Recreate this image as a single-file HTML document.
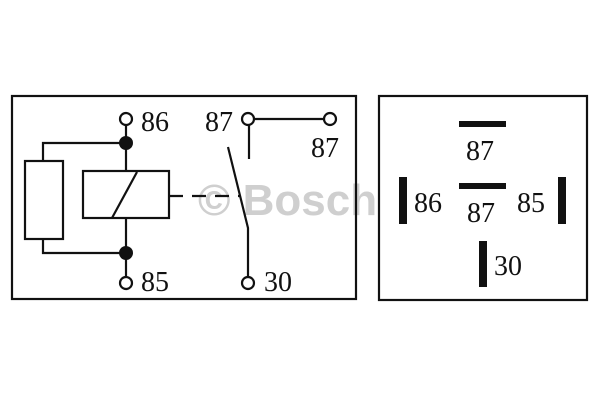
<!DOCTYPE html>
<html><head><style>
html,body{margin:0;padding:0;background:#fff;width:600px;height:400px;overflow:hidden}
text{font-family:"Liberation Serif",serif;font-size:28px;fill:#111}
</style></head><body>
<svg width="600" height="400" viewBox="0 0 600 400" xmlns="http://www.w3.org/2000/svg">
<text x="198" y="215" style="font-family:'Liberation Sans',sans-serif;font-weight:bold;font-size:44px;fill:#cfcfcf">© Bosch</text>
<g fill="none" stroke="#111" stroke-width="2.2">
<rect x="12" y="96" width="344" height="203"/>
<rect x="379" y="96" width="208" height="204"/>
<rect x="25" y="161" width="38" height="78"/>
<rect x="83" y="171" width="86" height="47"/>
<line x1="112" y1="218" x2="137" y2="172"/>
<polyline points="43,161 43,143 126,143"/>
<polyline points="43,239 43,253 126,253"/>
<line x1="126" y1="125" x2="126" y2="171"/>
<line x1="126" y1="218" x2="126" y2="277"/>
<line x1="169" y1="196" x2="240" y2="196" stroke-dasharray="14,9"/>
<polyline points="228,147 248,228 248,277"/>
<line x1="249" y1="125" x2="249" y2="159"/>
<line x1="254" y1="119" x2="324" y2="119"/>
<circle cx="126" cy="119" r="6" fill="#fff"/>
<circle cx="126" cy="283" r="6" fill="#fff"/>
<circle cx="248" cy="119" r="6" fill="#fff"/>
<circle cx="330" cy="119" r="6" fill="#fff"/>
<circle cx="248" cy="283" r="6" fill="#fff"/>
</g>
<circle cx="126" cy="143" r="7" fill="#111"/>
<circle cx="126" cy="253" r="7" fill="#111"/>
<text x="141" y="131">86</text>
<text x="205" y="131">87</text>
<text x="311" y="157">87</text>
<text x="141" y="291">85</text>
<text x="264" y="291">30</text>
<g fill="#111">
<rect x="459" y="121" width="47" height="6"/>
<rect x="459" y="183" width="47" height="6"/>
<rect x="399" y="177" width="8" height="47"/>
<rect x="558" y="177" width="8" height="47"/>
<rect x="479" y="241" width="8" height="46"/>
</g>
<text x="466" y="160">87</text>
<text x="414" y="212">86</text>
<text x="467" y="222">87</text>
<text x="517" y="212">85</text>
<text x="494" y="275">30</text>
</svg>
</body></html>
